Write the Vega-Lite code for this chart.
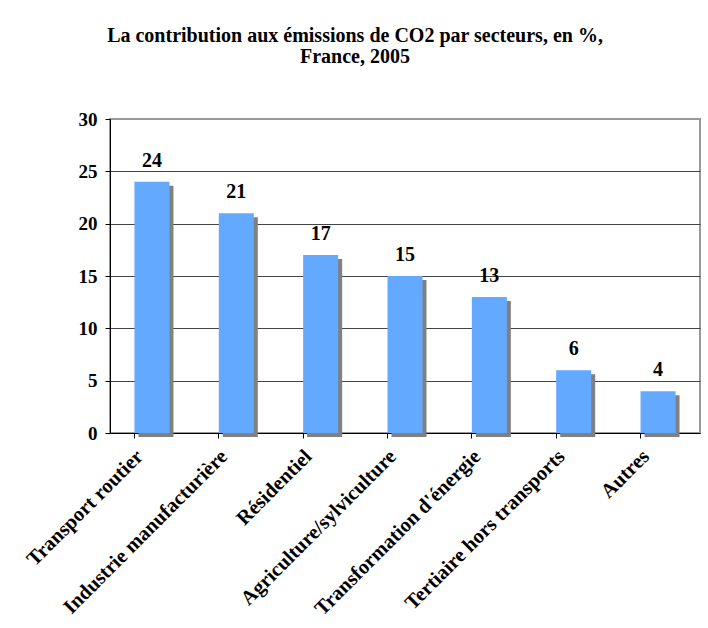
{
  "$schema": "https://vega.github.io/schema/vega-lite/v6.json",
  "width": 590,
  "height": 314,
  "autosize": {"type": "none"},
  "padding": {"left": 110, "top": 119, "right": 8, "bottom": 195},
  "background": "white",
  "title": {
    "text": ["La contribution aux émissions de CO2 par secteurs, en %,", "France, 2005"],
    "font": "Liberation Serif",
    "fontSize": 20,
    "fontWeight": "bold",
    "color": "black",
    "anchor": "middle",
    "dx": -50,
    "offset": 43,
    "lineHeight": 21
  },
  "data": {
    "values": [
      {"secteur": "Transport routier", "valeur": 24},
      {"secteur": "Industrie manufacturière", "valeur": 21},
      {"secteur": "Résidentiel", "valeur": 17},
      {"secteur": "Agriculture/sylviculture", "valeur": 15},
      {"secteur": "Transformation d'énergie", "valeur": 13},
      {"secteur": "Tertiaire hors transports", "valeur": 6},
      {"secteur": "Autres", "valeur": 4}
    ]
  },
  "config": {
    "view": {"stroke": "#999999", "strokeWidth": 2},
    "axis": {
      "labelFont": "Liberation Serif",
      "labelFontWeight": "bold",
      "labelColor": "black",
      "labelFontSize": 19,
      "domainColor": "black",
      "tickColor": "black"
    }
  },
  "resolve": {"axis": {"x": "independent"}},
  "layer": [
    {
      "mark": {"type": "bar", "color": "#808080", "xOffset": 4, "yOffset": 4},
      "encoding": {
        "x": {
          "field": "secteur",
          "type": "nominal",
          "sort": null,
          "scale": {"paddingInner": 0.585, "paddingOuter": 0.29},
          "axis": {
            "orient": "bottom",
            "title": null,
            "labelAngle": -45,
            "labelAlign": "right",
            "labelBaseline": "middle",
            "labelLimit": 400,
            "labelFontSize": 20.5,
            "labelPadding": 20,
            "labelOffset": -12,
            "ticks": false,
            "domain": false
          }
        },
        "y": {
          "field": "valeur",
          "type": "quantitative",
          "scale": {"domain": [0, 30], "nice": false},
          "axis": {
            "title": null,
            "values": [0, 5, 10, 15, 20, 25, 30],
            "grid": true,
            "gridColor": {"condition": {"test": "datum.value === 30", "value": "#999999"}, "value": "#444444"},
            "gridOpacity": 1,
            "tickSize": 5,
            "labelPadding": 8
          }
        }
      }
    },
    {
      "mark": {"type": "bar", "color": "#63a9ff"},
      "encoding": {
        "x": {
          "field": "secteur",
          "type": "nominal",
          "sort": null,
          "axis": {
            "orient": "bottom",
            "title": null,
            "labels": false,
            "bandPosition": 0,
            "tickSize": 5,
            "domain": true
          }
        },
        "y": {"field": "valeur", "type": "quantitative"}
      }
    },
    {
      "mark": {
        "type": "text",
        "font": "Liberation Serif",
        "fontSize": 20,
        "fontWeight": "bold",
        "color": "black",
        "baseline": "alphabetic",
        "dy": -15
      },
      "encoding": {
        "x": {"field": "secteur", "type": "nominal", "sort": null, "axis": null},
        "y": {"field": "valeur", "type": "quantitative"},
        "text": {"field": "valeur", "type": "quantitative"}
      }
    }
  ]
}
